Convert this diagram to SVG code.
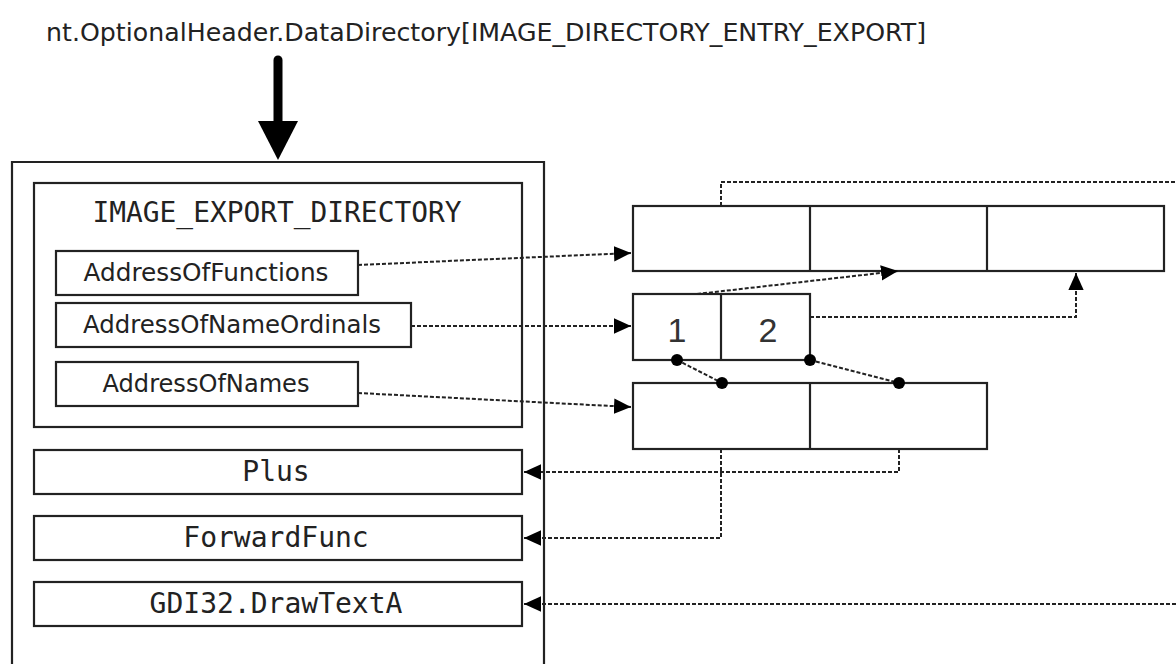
<svg xmlns="http://www.w3.org/2000/svg" width="1176" height="664" viewBox="0 0 1176 664">
  <defs>
    <marker id="arrow" viewBox="0 0 10 10" refX="10" refY="5" markerWidth="17" markerHeight="17" markerUnits="userSpaceOnUse" orient="auto">
      <path d="M0,0.5 L10,5 L0,9.5 z" fill="#000"/>
    </marker>
    <style>
      .box { fill: #fff; stroke: #222; stroke-width: 2.2; }
      .mono { font-family: "DejaVu Sans Mono", "Liberation Mono", monospace; font-size: 28px; fill: #222; }
      .sans { font-family: "DejaVu Sans", "Verdana", sans-serif; font-size: 25px; fill: #222; }
      .num { font-family: "Liberation Sans", "Arial", sans-serif; font-size: 34px; fill: #333; }
      .link { fill: none; stroke: #222; stroke-width: 2; stroke-dasharray: 4 2; }
      .dot { fill: #000; }
    </style>
  </defs>

  <rect width="1176" height="664" fill="#fff"/>

  <!-- header label and entry arrow -->
  <g id="header">
    <text x="46" y="41" class="sans" font-size="24" textLength="880" lengthAdjust="spacingAndGlyphs">nt.OptionalHeader.DataDirectory[IMAGE_DIRECTORY_ENTRY_EXPORT]</text>
    <line x1="278" y1="60" x2="278" y2="126" stroke="#000" stroke-width="9" stroke-linecap="round"/>
    <path d="M258,121 L298,121 L278,160 z" fill="#000"/>
  </g>

  <!-- export section -->
  <g id="section">
    <path d="M12,664 L12,162 L544,162 L544,664" fill="#fff" stroke="#222" stroke-width="2.2"/>
  </g>

  <g id="export-directory">
    <rect x="34" y="183" width="488" height="244" class="box"/>
    <text x="277" y="222" class="mono" text-anchor="middle" textLength="369" lengthAdjust="spacingAndGlyphs">IMAGE_EXPORT_DIRECTORY</text>
  </g>

  <g id="address-of-functions">
    <rect x="56" y="251" width="302" height="44" class="box"/>
    <text x="206" y="281" class="sans" text-anchor="middle" textLength="245" lengthAdjust="spacingAndGlyphs">AddressOfFunctions</text>
  </g>

  <g id="address-of-name-ordinals">
    <rect x="56" y="303" width="355" height="44" class="box"/>
    <text x="232" y="333" class="sans" text-anchor="middle" textLength="298" lengthAdjust="spacingAndGlyphs">AddressOfNameOrdinals</text>
  </g>

  <g id="address-of-names">
    <rect x="56" y="362" width="302" height="44" class="box"/>
    <text x="206" y="392" class="sans" text-anchor="middle" textLength="207" lengthAdjust="spacingAndGlyphs">AddressOfNames</text>
  </g>

  <g id="plus">
    <rect x="34" y="450" width="488" height="44" class="box"/>
    <text x="276" y="481" class="mono" text-anchor="middle">Plus</text>
  </g>

  <g id="forward-func">
    <rect x="34" y="516" width="488" height="44" class="box"/>
    <text x="276" y="547" class="mono" text-anchor="middle">ForwardFunc</text>
  </g>

  <g id="gdi32-drawtexta">
    <rect x="34" y="582" width="488" height="44" class="box"/>
    <text x="276" y="613" class="mono" text-anchor="middle">GDI32.DrawTextA</text>
  </g>

  <!-- function address table -->
  <g id="functions-table">
    <rect x="633" y="206" width="531" height="65" class="box"/>
    <line x1="810" y1="206" x2="810" y2="271" stroke="#222" stroke-width="2.2"/>
    <line x1="987" y1="206" x2="987" y2="271" stroke="#222" stroke-width="2.2"/>
  </g>

  <!-- ordinal table -->
  <g id="ordinals-table">
    <rect x="633" y="294" width="177" height="66" class="box"/>
    <line x1="721" y1="294" x2="721" y2="360" stroke="#222" stroke-width="2.2"/>
    <text x="677" y="342" class="num" text-anchor="middle">1</text>
    <text x="768" y="342" class="num" text-anchor="middle">2</text>
  </g>

  <!-- name pointer table -->
  <g id="names-table">
    <rect x="633" y="383" width="354" height="66" class="box"/>
    <line x1="810" y1="383" x2="810" y2="449" stroke="#222" stroke-width="2.2"/>
  </g>

  <!-- connectors -->
  <g id="connectors">
    <path d="M358,265 L631,253" class="link" marker-end="url(#arrow)"/>
    <path d="M411,326 L631,326" class="link" marker-end="url(#arrow)"/>
    <path d="M358,393 L631,407" class="link" marker-end="url(#arrow)"/>
    <path d="M697,294 L898,271" class="link" marker-end="url(#arrow)"/>
    <path d="M810,317 L1076,317 L1076,273" class="link" marker-end="url(#arrow)"/>
    <path d="M677,360 L722,383" class="link"/>
    <path d="M810,360 L899,383" class="link"/>
    <circle cx="677" cy="360" r="6" class="dot"/>
    <circle cx="722" cy="383" r="6" class="dot"/>
    <circle cx="810" cy="360" r="6" class="dot"/>
    <circle cx="899" cy="383" r="6" class="dot"/>
    <path d="M899,449 L899,472 L524,472" class="link" marker-end="url(#arrow)"/>
    <path d="M721,449 L721,538 L524,538" class="link" marker-end="url(#arrow)"/>
    <path d="M721,206 L721,182 L1176,182" class="link"/>
    <path d="M1176,604 L524,604" class="link" marker-end="url(#arrow)"/>
  </g>
</svg>
